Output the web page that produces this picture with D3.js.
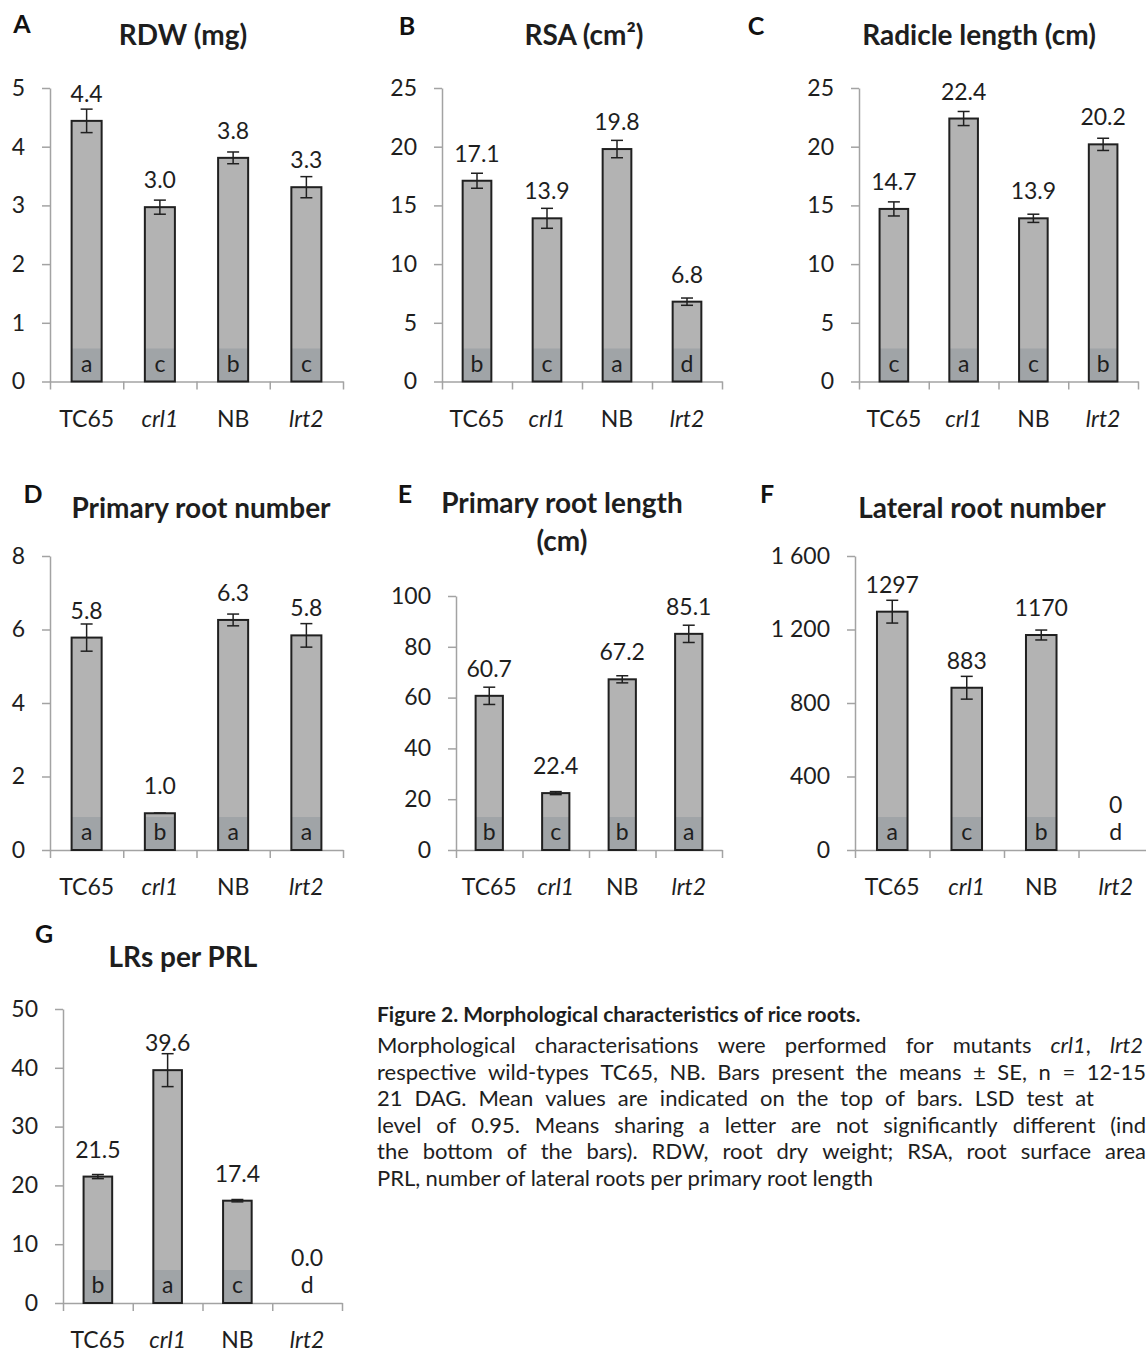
<!DOCTYPE html>
<html>
<head>
<meta charset="utf-8">
<script src="https://cdn.jsdelivr.net/npm/d3@7"></script>
<style>
  body { margin: 0; background: #fff; }
  svg { display: block; }
  text { font-family: Lato, "Open Sans", sans-serif; }
</style>
</head>
<body>
<svg id="fig"></svg>
<script>
// ---- data ----
var categories = ["TC65", "crl1", "NB", "lrt2"];
var italicCats = ["crl1", "lrt2"];

var rdwMeans   = [4.44, 2.97, 3.81, 3.31];
var rdwSE      = [0.20, 0.12, 0.10, 0.18];
var rdwLetters = ["a", "c", "b", "c"];
var rdwTicks   = [0, 1, 2, 3, 4, 5];

var rsaMeans   = [17.1, 13.9, 19.8, 6.8];
var rsaSE      = [0.64, 0.85, 0.74, 0.31];
var rsaLetters = ["b", "c", "a", "d"];
var rsaTicks   = [0, 5, 10, 15, 20, 25];

var radMeans   = [14.7, 22.4, 13.9, 20.2];
var radSE      = [0.60, 0.60, 0.35, 0.52];
var radLetters = ["c", "a", "c", "b"];
var radTicks   = [0, 5, 10, 15, 20, 25];

var prnMeans   = [5.78, 1.0, 6.26, 5.84];
var prnSE      = [0.37, 0, 0.16, 0.32];
var prnLetters = ["a", "b", "a", "a"];
var prnTicks   = [0, 2, 4, 6, 8];

var prlMeans   = [60.7, 22.4, 67.2, 85.1];
var prlSE      = [3.4, 0.6, 1.4, 3.4];
var prlLetters = ["b", "c", "b", "a"];
var prlTicks   = [0, 20, 40, 60, 80, 100];

var lrnMeans   = [1297, 883, 1170, 0];
var lrnSE      = [62, 62, 27, 0];
var lrnLetters = ["a", "c", "b", "d"];
var lrnTicks   = [0, 400, 800, 1200, 1600];

var lppMeans   = [21.5, 39.6, 17.4, 0];
var lppSE      = [0.35, 2.8, 0.2, 0];
var lppLetters = ["b", "a", "c", "d"];
var lppTicks   = [0, 10, 20, 30, 40, 50];

var captionTitle = "Figure 2. Morphological characteristics of rice roots.";
var captionLines = [
  "Morphological characterisations were performed for mutants _crl1_, _lrt2_",
  "respective wild-types TC65, NB. Bars present the means ± SE, n = 12-15",
  "21 DAG. Mean values are indicated on the top of bars. LSD test at",
  "level of 0.95. Means sharing a letter are not significantly different (ind",
  "the bottom of the bars). RDW, root dry weight; RSA, root surface area",
  "PRL, number of lateral roots per primary root length"
];

// ---- layout ----
var panels = [
  {tag: "A", title: ["RDW (mg)"], means: rdwMeans, se: rdwSE, letters: rdwLetters, ticks: rdwTicks, fmt: ".1f",
   x0: 50, x1: 343, yTop: 88, yBot: 381.5, tx: 183, ty: [45], lx: 22, ly: 33},
  {tag: "B", title: ["RSA (cm\u00b2)"], means: rsaMeans, se: rsaSE, letters: rsaLetters, ticks: rsaTicks, fmt: ".1f",
   x0: 442, x1: 722, yTop: 88, yBot: 381.5, tx: 584, ty: [45], lx: 407, ly: 35},
  {tag: "C", title: ["Radicle length (cm)"], means: radMeans, se: radSE, letters: radLetters, ticks: radTicks, fmt: ".1f",
   x0: 859, x1: 1138, yTop: 88, yBot: 381.5, tx: 979, ty: [45], lx: 756, ly: 35},
  {tag: "D", title: ["Primary root number"], means: prnMeans, se: prnSE, letters: prnLetters, ticks: prnTicks, fmt: ".1f",
   x0: 50, x1: 343, yTop: 556, yBot: 850, tx: 201, ty: [518], lx: 33, ly: 503},
  {tag: "E", title: ["Primary root length", "(cm)"], means: prlMeans, se: prlSE, letters: prlLetters, ticks: prlTicks, fmt: ".1f",
   x0: 456, x1: 722, yTop: 596, yBot: 850, tx: 562, ty: [513, 551], lx: 405, ly: 503},
  {tag: "F", title: ["Lateral root number"], means: lrnMeans, se: lrnSE, letters: lrnLetters, ticks: lrnTicks, fmt: "d",
   x0: 855, x1: 1153, yTop: 556, yBot: 850, tx: 982, ty: [518], lx: 767, ly: 503},
  {tag: "G", title: ["LRs per PRL"], means: lppMeans, se: lppSE, letters: lppLetters, ticks: lppTicks, fmt: ".1f",
   x0: 63, x1: 342, yTop: 1009, yBot: 1303, tx: 183, ty: [967], lx: 44, ly: 943}
];

var axisColor = "#a3a3a3";
var textColor = "#1e1e1e";
var barFill = "#b3b3b3";
var boxFill = "#a0a4a7";
var barStroke = "#202020";

var tickFmt = d3.formatLocale({decimal: ".", thousands: "\u00a0", grouping: [3], currency: ["", ""]}).format(",");

var svg = d3.select("#fig")
  .attr("width", 1146)
  .attr("height", 1354);

svg.append("rect")
  .attr("width", 1146)
  .attr("height", 1354)
  .attr("fill", "#fff");

panels.forEach(function(p) {
  var y = d3.scaleLinear().domain([0, d3.max(p.ticks)]).range([p.yBot, p.yTop]);
  var x = d3.scaleBand().domain(categories).range([p.x0, p.x1])
    .paddingInner(0.59).paddingOuter(0.295);
  var slot = d3.scaleLinear().domain([0, categories.length]).range([p.x0, p.x1]);
  var valFmt = d3.format(p.fmt);
  var g = svg.append("g");

  // y axis
  g.append("g")
    .attr("transform", "translate(" + p.x0 + ",0)")
    .style("color", axisColor)
    .call(d3.axisLeft(y).tickValues(p.ticks).tickSize(8).tickSizeOuter(0)
      .tickPadding(17).tickFormat(tickFmt))
    .call(function(a) {
      a.attr("font-family", null).attr("font-size", 23);
      a.selectAll("line, path").attr("stroke-width", 1.5);
      a.selectAll("text").attr("fill", textColor);
    });

  // x axis line with category boundary ticks
  g.append("g")
    .attr("transform", "translate(0," + p.yBot + ")")
    .style("color", axisColor)
    .call(d3.axisBottom(slot).tickValues(d3.range(categories.length + 1))
      .tickSize(8).tickSizeOuter(0).tickFormat(""))
    .call(function(a) {
      a.selectAll("line, path").attr("stroke-width", 1.5);
    });

  // category labels
  g.append("g")
    .attr("transform", "translate(0," + p.yBot + ")")
    .call(d3.axisBottom(x).tickSize(0).tickPadding(29))
    .call(function(a) {
      a.select(".domain").remove();
      a.attr("font-family", null).attr("font-size", 23);
      a.selectAll("text")
        .attr("fill", textColor)
        .style("font-style", function(d) { return italicCats.indexOf(d) >= 0 ? "italic" : "normal"; });
    });

  var rows = categories.map(function(c, i) {
    return {cat: c, v: p.means[i], e: p.se[i], letter: p.letters[i]};
  });
  var shown = rows.filter(function(d) { return d.v > 0; });

  g.selectAll(".bar").data(shown).enter().append("rect")
    .attr("x", function(d) { return x(d.cat); })
    .attr("y", function(d) { return y(d.v); })
    .attr("width", x.bandwidth())
    .attr("height", function(d) { return y(0) - y(d.v); })
    .attr("fill", barFill);

  g.selectAll(".box").data(shown).enter().append("rect")
    .attr("x", function(d) { return x(d.cat); })
    .attr("y", function(d) { return y(0) - Math.min(33, y(0) - y(d.v)); })
    .attr("width", x.bandwidth())
    .attr("height", function(d) { return Math.min(33, y(0) - y(d.v)); })
    .attr("fill", boxFill);

  g.selectAll(".outline").data(shown).enter().append("rect")
    .attr("x", function(d) { return x(d.cat); })
    .attr("y", function(d) { return y(d.v); })
    .attr("width", x.bandwidth())
    .attr("height", function(d) { return y(0) - y(d.v); })
    .attr("fill", "none")
    .attr("stroke", barStroke)
    .attr("stroke-width", 2);

  // error bars
  var err = g.selectAll(".err").data(shown).enter().append("g")
    .attr("stroke", barStroke)
    .attr("stroke-width", 1.5);
  var cx = function(d) { return x(d.cat) + x.bandwidth() / 2; };
  err.append("line")
    .attr("x1", cx).attr("x2", cx)
    .attr("y1", function(d) { return y(d.v + d.e); })
    .attr("y2", function(d) { return y(d.v - d.e); });
  err.append("line")
    .attr("x1", function(d) { return cx(d) - 6; })
    .attr("x2", function(d) { return cx(d) + 6; })
    .attr("y1", function(d) { return y(d.v + d.e); })
    .attr("y2", function(d) { return y(d.v + d.e); });
  err.append("line")
    .attr("x1", function(d) { return cx(d) - 6; })
    .attr("x2", function(d) { return cx(d) + 6; })
    .attr("y1", function(d) { return y(d.v - d.e); })
    .attr("y2", function(d) { return y(d.v - d.e); });

  // value labels
  g.selectAll(".val").data(rows).enter().append("text")
    .attr("x", cx)
    .attr("y", function(d) { return Math.min(y(d.v) - 19, y(0) - 37); })
    .attr("text-anchor", "middle")
    .attr("font-size", 23)
    .attr("fill", textColor)
    .text(function(d) { return valFmt(d.v); });

  // significance letters
  g.selectAll(".let").data(rows).enter().append("text")
    .attr("x", cx)
    .attr("y", y(0) - 10)
    .attr("text-anchor", "middle")
    .attr("font-size", 23)
    .attr("fill", textColor)
    .text(function(d) { return d.letter; });

  // title and panel tag
  p.title.forEach(function(t, i) {
    g.append("text")
      .attr("x", p.tx)
      .attr("y", p.ty[i])
      .attr("text-anchor", "middle")
      .attr("font-size", 28)
      .attr("font-weight", "bold")
      .attr("fill", textColor)
      .text(t);
  });
  g.append("text")
    .attr("x", p.lx)
    .attr("y", p.ly)
    .attr("text-anchor", "middle")
    .attr("font-size", 25)
    .attr("font-weight", "bold")
    .attr("fill", "#111")
    .text(p.tag);
});

// ---- caption ----
var capX = 377;
var capSize = 22;
var cap = svg.append("g").attr("fill", textColor).attr("font-size", capSize);

cap.append("text")
  .attr("x", capX)
  .attr("y", 1022)
  .attr("font-size", 21)
  .attr("font-weight", "bold")
  .text(captionTitle);

var lineEnds = [1143, 1146, 1094, 1146, 1146, null];

function addWord(parent, word) {
  var t = parent.append("text");
  word.split("_").forEach(function(seg, k) {
    if (seg === "") return;
    t.append("tspan").style("font-style", k % 2 ? "italic" : "normal").text(seg);
  });
  return t;
}

captionLines.forEach(function(line, i) {
  var yy = 1053 + i * 26.5;
  var words = line.split(" ");
  var texts = words.map(function(w) { return addWord(cap, w).attr("y", yy); });
  var widths = texts.map(function(t) { return t.node().getComputedTextLength(); });
  var total = d3.sum(widths);
  var gap = lineEnds[i] ? (lineEnds[i] - capX - total) / (words.length - 1) : capSize * 0.24;
  var xx = capX;
  texts.forEach(function(t, k) {
    t.attr("x", xx);
    xx += widths[k] + gap;
  });
});
</script>
</body>
</html>
